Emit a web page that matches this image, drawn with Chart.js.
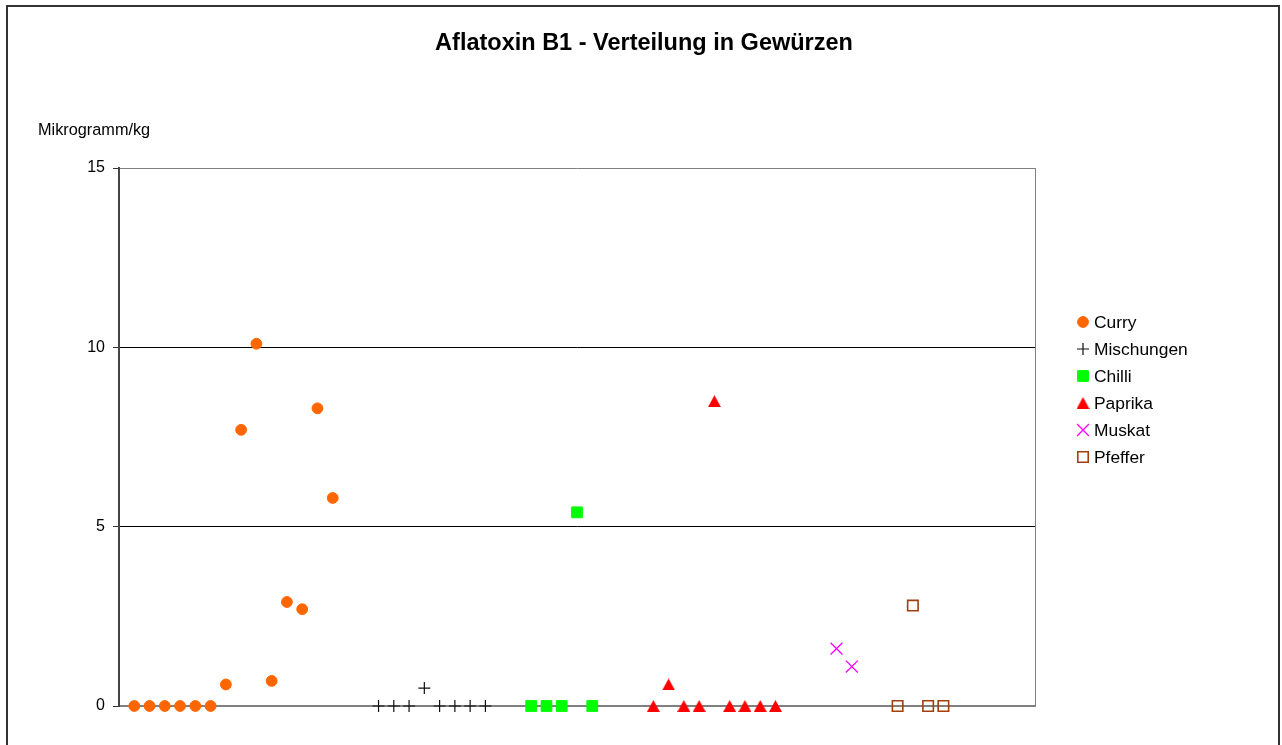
<!DOCTYPE html>
<html>
<head>
<meta charset="utf-8">
<script src="https://cdn.jsdelivr.net/npm/chart.js@4/dist/chart.umd.min.js"></script>
<style>
  html, body { margin: 0; padding: 0; background: #fff; }
  #c { display: block; }
</style>
</head>
<body>
<canvas id="c" width="1282" height="745"></canvas>
<script>
// ---- data ----
const title = "Aflatoxin B1 - Verteilung in Gewürzen";
const yAxisLabel = "Mikrogramm/kg";
const yTicks = [0, 5, 10, 15];

const curryX = [1, 2, 3, 4, 5, 6, 7, 8, 9, 10, 11, 12, 13, 14];
const curryY = [0, 0, 0, 0, 0, 0, 0.6, 7.7, 10.1, 0.7, 2.9, 2.7, 8.3, 5.8];

const mischX = [17, 18, 19, 20, 21, 22, 23, 24];
const mischY = [0, 0, 0, 0.5, 0, 0, 0, 0];

const chilliX = [27, 28, 29, 30, 31];
const chilliY = [0, 0, 0, 5.4, 0];

const paprikaX = [35, 36, 37, 38, 39, 40, 41, 42, 43];
const paprikaY = [0, 0.6, 0, 0, 8.5, 0, 0, 0, 0];

const muskatX = [47, 48];
const muskatY = [1.6, 1.1];

const pfefferX = [51, 52, 53, 54];
const pfefferY = [0, 2.8, 0, 0];

const seriesNames = ["Curry", "Mischungen", "Chilli", "Paprika", "Muskat", "Pfeffer"];

const toPts = (xs, ys) => xs.map((x, i) => ({ x: x, y: ys[i] }));

// triangle marker centred on its bounding box (as in the reference)
function makeTriangle(w, h, color) {
  const cv = document.createElement('canvas');
  cv.width = w; cv.height = h;
  const g = cv.getContext('2d');
  g.fillStyle = color;
  g.beginPath();
  g.moveTo(w / 2, 0);
  g.lineTo(w, h);
  g.lineTo(0, h);
  g.closePath();
  g.fill();
  return cv;
}
const triImg = makeTriangle(13, 12, '#FF0000');

const styles = [
  { pointStyle: 'circle',   radius: 5.4, bg: '#FF6600', border: '#FF6600', bw: 1 },
  { pointStyle: 'cross',    radius: 6,   bg: '#000000', border: '#111111', bw: 1.2 },
  { pointStyle: 'rect',     radius: 7.6, bg: '#00FF00', border: '#00FF00', bw: 1 },
  { pointStyle: triImg,     radius: 7,   bg: '#FF0000', border: '#FF0000', bw: 1 },
  { pointStyle: 'crossRot', radius: 8.4, bg: '#FF00FF', border: '#FF00FF', bw: 1.3 },
  { pointStyle: 'rect',     radius: 7.4, bg: 'rgba(255,255,255,0)', border: '#A0400F', bw: 1.6 }
];

const allData = [
  toPts(curryX, curryY), toPts(mischX, mischY), toPts(chilliX, chilliY),
  toPts(paprikaX, paprikaY), toPts(muskatX, muskatY), toPts(pfefferX, pfefferY)
];

const datasets = seriesNames.map((name, i) => ({
  label: name,
  data: allData[i],
  pointStyle: styles[i].pointStyle,
  pointRadius: styles[i].radius,
  pointHoverRadius: styles[i].radius,
  backgroundColor: styles[i].bg,
  borderColor: styles[i].border,
  borderWidth: styles[i].bw,
  showLine: false,
  clip: false
}));

const FONT = '"Liberation Sans", Arial, sans-serif';

const decor = {
  id: 'decor',
  beforeDraw(chart) {
    const ctx = chart.ctx;
    ctx.save();
    ctx.fillStyle = '#fff';
    ctx.fillRect(0, 0, chart.width, chart.height);
    // outer frame
    ctx.strokeStyle = '#333';
    ctx.lineWidth = 2;
    ctx.beginPath();
    ctx.moveTo(7, 760);
    ctx.lineTo(7, 6);
    ctx.lineTo(1279, 6);
    ctx.lineTo(1279, 760);
    ctx.stroke();
    ctx.restore();
  },
  afterDraw(chart) {
    const ctx = chart.ctx;
    const ca = chart.chartArea;
    ctx.save();
    // right border of plot
    ctx.strokeStyle = '#808080';
    ctx.lineWidth = 1;
    ctx.beginPath();
    ctx.moveTo(ca.right + 0.5, ca.top);
    ctx.lineTo(ca.right + 0.5, ca.bottom);
    ctx.stroke();
    // title
    ctx.fillStyle = '#000';
    ctx.font = 'bold 23.5px ' + FONT;
    ctx.textAlign = 'center';
    ctx.textBaseline = 'middle';
    ctx.fillText(title, 644, 44);
    // y axis label
    ctx.font = '16.3px ' + FONT;
    ctx.textAlign = 'left';
    ctx.fillText(yAxisLabel, 38, 131);
    // legend
    ctx.font = '17.4px ' + FONT;
    ctx.textBaseline = 'middle';
    seriesNames.forEach((name, i) => {
      const y = 322 + i * 27;
      const st = styles[i];
      if (st.pointStyle instanceof HTMLCanvasElement) {
        ctx.drawImage(st.pointStyle, 1083 - st.pointStyle.width / 2, y - st.pointStyle.height / 2);
      } else {
        ctx.fillStyle = st.bg;
        ctx.strokeStyle = st.border;
        ctx.lineWidth = st.bw;
        Chart.helpers.drawPoint(ctx, {
          pointStyle: st.pointStyle,
          radius: st.radius,
          borderWidth: st.bw,
          rotation: 0
        }, 1083, y);
      }
      ctx.fillStyle = '#000';
      ctx.fillText(name, 1094, y + 1);
    });
    ctx.restore();
  }
};

new Chart(document.getElementById('c'), {
  type: 'scatter',
  data: { datasets: datasets },
  options: {
    responsive: false,
    animation: false,
    events: [],
    layout: { padding: { left: 0, right: 247, top: 168, bottom: 39 } },
    plugins: {
      legend: { display: false },
      title: { display: false },
      tooltip: { enabled: false }
    },
    scales: {
      x: {
        type: 'linear',
        min: 0,
        max: 60,
        ticks: { display: false },
        grid: { display: false, drawTicks: false },
        border: { display: true, color: '#808080', width: 2 },
        afterFit(scale) { scale.height = 0; }
      },
      y: {
        type: 'linear',
        min: 0,
        max: 15,
        afterBuildTicks(scale) { scale.ticks = yTicks.map(v => ({ value: v })); },
        ticks: {
          color: '#000',
          font: { family: FONT, size: 16 },
          padding: 8
        },
        grid: {
          color: (c) => c.tick && c.tick.value === 0 ? 'rgba(0,0,0,0)' : (c.tick && c.tick.value === 15 ? '#808080' : '#000'),
          tickColor: '#333',
          tickLength: 6,
          lineWidth: 1
        },
        border: { display: true, color: '#444', width: 2 },
        afterFit(scale) { scale.width = 119; }
      }
    }
  },
  plugins: [decor]
});
</script>
</body>
</html>
